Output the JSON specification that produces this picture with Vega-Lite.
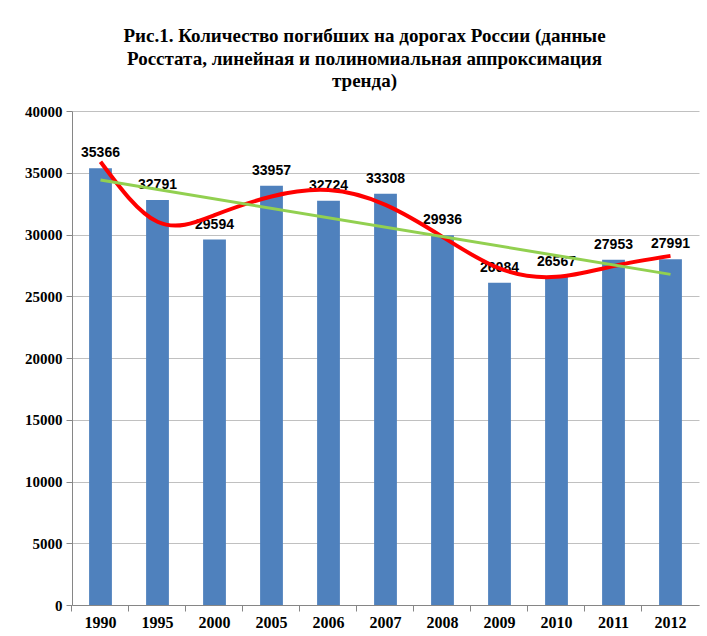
{
  "$schema": "https://vega.github.io/schema/vega-lite/v6.json",
  "width": 627,
  "height": 494,
  "autosize": {"type": "none"},
  "padding": {"left": 72, "top": 111, "right": 8, "bottom": 31},
  "background": "white",
  "title": {
    "text": ["Рис.1.  Количество погибших на дорогах России (данные", "Росстата, линейная  и полиномиальная аппроксимация", "тренда)"],
    "font": "Liberation Serif, DejaVu Serif, serif",
    "fontSize": 19,
    "fontWeight": "bold",
    "color": "#000000",
    "lineHeight": 22.5,
    "offset": 13,
    "dx": -21,
    "anchor": "middle"
  },
  "data": {
    "values": [
      {"year": "1990", "value": 35366, "poly": 35890, "lin": 34410},
      {"year": "1995", "value": 32791, "poly": 31030, "lin": null},
      {"year": "2000", "value": 29594, "poly": 31570, "lin": null},
      {"year": "2005", "value": 33957, "poly": 33080, "lin": null},
      {"year": "2006", "value": 32724, "poly": 33600, "lin": null},
      {"year": "2007", "value": 33308, "poly": 32400, "lin": null},
      {"year": "2008", "value": 29936, "poly": 29810, "lin": null},
      {"year": "2009", "value": 26084, "poly": 27250, "lin": null},
      {"year": "2010", "value": 26567, "poly": 26570, "lin": null},
      {"year": "2011", "value": 27953, "poly": 27440, "lin": null},
      {"year": "2012", "value": 27991, "poly": 28270, "lin": 26770}
    ]
  },
  "resolve": {"axis": {"x": "independent"}},
  "layer": [
    {
      "mark": {"type": "bar", "color": "#4F81BD"},
      "encoding": {
        "x": {
          "field": "year",
          "type": "ordinal",
          "title": null,
          "scale": {"paddingInner": 0.6, "paddingOuter": 0.3},
          "axis": {
            "labelAngle": 0,
            "labelFont": "Liberation Serif, DejaVu Serif, serif",
            "labelFontSize": 16,
            "labelFontWeight": "bold",
            "labelColor": "#000000",
            "labelPadding": 9,
            "ticks": false,
            "domainColor": "#868686",
            "orient": "bottom"
          }
        },
        "y": {
          "field": "value",
          "type": "quantitative",
          "scale": {"domain": [0, 40000], "nice": false},
          "title": null,
          "axis": {
            "values": [0, 5000, 10000, 15000, 20000, 25000, 30000, 35000, 40000],
            "format": "d",
            "labelFont": "Liberation Serif, DejaVu Serif, serif",
            "labelFontSize": 15,
            "labelFontWeight": "bold",
            "labelColor": "#000000",
            "labelPadding": 4,
            "tickSize": 6,
            "tickColor": "#868686",
            "domainColor": "#868686",
            "gridColor": "#c0c0c0",
            "grid": true
          }
        }
      }
    },
    {
      "mark": {"type": "text", "baseline": "bottom", "dy": -8, "font": "Liberation Sans", "fontSize": 14, "fontWeight": "bold", "color": "#000000"},
      "encoding": {
        "x": {
          "field": "year",
          "type": "ordinal",
          "title": null,
          "axis": {
            "orient": "bottom",
            "labels": false,
            "domain": false,
            "grid": false,
            "ticks": true,
            "tickSize": 6,
            "tickColor": "#868686",
            "bandPosition": -0.75
          }
        },
        "y": {"field": "value", "type": "quantitative"},
        "text": {"field": "value", "type": "quantitative", "format": "d"}
      }
    },
    {
      "mark": {"type": "line", "color": "#FF0000", "strokeWidth": 4, "interpolate": "natural"},
      "encoding": {
        "x": {"field": "year", "type": "ordinal", "axis": null},
        "y": {"field": "poly", "type": "quantitative"}
      }
    },
    {
      "transform": [{"filter": "datum.lin != null"}],
      "mark": {"type": "line", "color": "#92D050", "strokeWidth": 3},
      "encoding": {
        "x": {"field": "year", "type": "ordinal", "axis": null},
        "y": {"field": "lin", "type": "quantitative"}
      }
    }
  ],
  "config": {
    "view": {"stroke": null}
  }
}
